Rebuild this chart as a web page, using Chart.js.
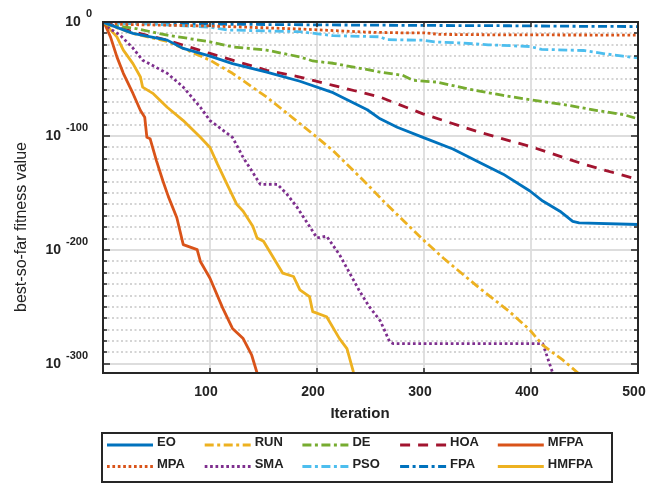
<!DOCTYPE html>
<html><head><meta charset="utf-8">
<script src="https://cdn.jsdelivr.net/npm/chart.js@4.4.0/dist/chart.umd.min.js"></script>
<style>html,body{margin:0;padding:0;background:#fff;}#wrap{width:657px;height:487px;}</style>
</head><body><div id="wrap"><canvas id="c" width="657" height="487"></canvas></div>
<script>
// ---- data: iteration and log10(best-so-far fitness) ----
const xTicks = [100, 200, 300, 400, 500];
const yTickExps = [0, -100, -200, -300];

const eoIter = [1, 28, 60, 75, 100, 121, 153, 184, 215, 247, 259, 275, 299, 327, 352, 374, 399, 411, 427, 439, 445, 500];
const eoVal  = [-0.5, -10, -15.9, -23.2, -30, -36.5, -44, -52, -62, -77, -85, -92.4, -101.2, -111.5, -123.3, -133.5, -148.3, -157.1, -166, -175, -176.3, -177.7];

const runIter = [1, 28, 60, 100, 121, 153, 184, 200, 215, 247, 262, 299, 318, 352, 380, 399, 411, 430, 444, 447];
const runVal  = [-1, -10, -17, -33.5, -45, -65.9, -89.1, -101.2, -112.9, -142.4, -157.1, -190.9, -207.1, -233.6, -254.2, -270.3, -283.6, -296.8, -308, -312];

const deIter = [1, 4, 28, 60, 100, 121, 153, 184, 196, 215, 259, 280, 290, 312, 343, 374, 399, 436, 462, 486, 500];
const deVal  = [-0.5, -2.6, -5.3, -11.5, -17.4, -21.8, -24.7, -30.6, -34.2, -36.2, -43.9, -46.8, -51.2, -52.7, -59.1, -64.4, -68.2, -73.3, -77.7, -81.2, -85];

const hoaIter = [1, 28, 60, 100, 121, 153, 184, 215, 259, 299, 352, 402, 449, 500];
const hoaVal  = [-0.5, -8.6, -15.9, -27.6, -33.5, -42.4, -48.3, -55.6, -65.9, -80.6, -96.8, -110, -124.7, -138.3];

const mfpaIter = [1, 7, 13, 19, 28, 35, 39, 41, 44, 50, 56, 61, 69, 75, 88, 91, 100, 112, 121, 131, 139, 144, 146];
const mfpaVal  = [-0.5, -13, -30.6, -45, -62.7, -77.7, -83.6, -101.2, -102.4, -121.8, -139.5, -153, -171.8, -195.3, -199.7, -210.1, -224.8, -251.3, -268.9, -277.8, -292.4, -308, -312];

const mpaIter = [1, 10, 100, 180, 250, 280, 300, 315, 370, 500];
const mpaVal  = [-0.5, -2, -3.5, -6, -9, -9.5, -9.5, -10.9, -11.3, -11.5];

const smaIter = [1, 4, 16, 28, 37, 60, 75, 91, 100, 121, 131, 147, 163, 172, 181, 200, 209, 221, 240, 249, 259, 268, 271, 411, 421, 423];
const smaVal  = [-0.5, -4.4, -11.5, -22.9, -33.5, -45, -57.1, -74.8, -86.5, -101.2, -118.9, -142.4, -142.4, -151.2, -162, -189.5, -188, -204.1, -236.5, -250, -262, -280.7, -282.2, -282.2, -310, -312];

const psoIter = [1, 50, 100, 116, 184, 215, 259, 265, 299, 310, 336, 360, 399, 410, 449, 470, 486, 500];
const psoVal  = [-0.5, -2, -4.5, -7, -8.5, -12, -13, -15.5, -16, -17.5, -18.5, -20, -21.5, -24, -25, -28, -30, -31.5];

const fpaIter = [1, 20, 60, 120, 200, 300, 380, 450, 500];
const fpaVal  = [-0.5, -1, -1.5, -2, -2.5, -3, -3.3, -3.8, -4];

const hmfpaIter = [1, 13, 19, 28, 35, 37, 47, 60, 75, 91, 100, 107, 116, 125, 131, 140, 144, 150, 168, 178, 184, 193, 196, 209, 221, 228, 234, 236];
const hmfpaVal  = [-0.5, -13, -24.7, -36.5, -48.3, -57.1, -62.9, -74.8, -86.5, -101.2, -110.1, -124.7, -142.4, -160, -166, -179.2, -189.5, -192.4, -220.4, -223.3, -235, -241, -254.2, -258.6, -277.8, -286.6, -307.1, -312];

// ---- styles ----
const FONT = '"Liberation Sans", Arial, Helvetica, sans-serif';
const TXT = '#222222';
const DASHDOT = [9, 3.5, 3, 3.5];
const DASHED = [10, 8];
const DOTTED = [2.7, 2.7];

const seriesDefs = [
  {label:'EO',    it:eoIter,    v:eoVal,    color:'#0072BD', dash:[]},
  {label:'RUN',   it:runIter,   v:runVal,   color:'#EDB120', dash:DASHDOT},
  {label:'DE',    it:deIter,    v:deVal,    color:'#77AC30', dash:DASHDOT},
  {label:'HOA',   it:hoaIter,   v:hoaVal,   color:'#A2142F', dash:DASHED},
  {label:'MFPA',  it:mfpaIter,  v:mfpaVal,  color:'#D95319', dash:[]},
  {label:'MPA',   it:mpaIter,   v:mpaVal,   color:'#D95319', dash:DOTTED},
  {label:'SMA',   it:smaIter,   v:smaVal,   color:'#7E2F8E', dash:DOTTED},
  {label:'PSO',   it:psoIter,   v:psoVal,   color:'#4DBEEE', dash:DASHDOT},
  {label:'FPA',   it:fpaIter,   v:fpaVal,   color:'#0072BD', dash:DASHDOT},
  {label:'HMFPA', it:hmfpaIter, v:hmfpaVal, color:'#EDB120', dash:[]}
];

const datasets = seriesDefs.map(s => ({
  label: s.label,
  data: s.it.map((x, i) => ({x: x, y: s.v[i]})),
  borderColor: s.color,
  borderWidth: 2.8,
  borderDash: s.dash,
  borderCapStyle: 'butt',
  borderJoinStyle: 'round',
  pointRadius: 0,
  fill: false,
  tension: 0
}));

function seg(ctx, x1, y1, x2, y2){ ctx.beginPath(); ctx.moveTo(x1, y1); ctx.lineTo(x2, y2); ctx.stroke(); }

const deco = {
  id: 'deco',
  beforeDatasetsDraw(chart){
    const {ctx, chartArea: a, scales: {x, y}} = chart;
    ctx.save();
    ctx.lineWidth = 1.5;
    ctx.strokeStyle = '#c6c6c6';
    ctx.setLineDash([2, 2.5]);
    for (let v = -10; v >= -300; v -= 10){
      if (v % 100 === 0) continue;
      const py = Math.round(y.getPixelForValue(v));
      seg(ctx, a.left, py, a.right, py);
    }
    ctx.setLineDash([]);
    ctx.strokeStyle = '#dddddd';
    ctx.lineWidth = 1.8;
    for (const v of [-100, -200, -300]){
      const py = Math.round(y.getPixelForValue(v));
      seg(ctx, a.left, py, a.right, py);
    }
    for (const v of [100, 200, 300, 400]){
      const px = Math.round(x.getPixelForValue(v));
      seg(ctx, px, a.top, px, a.bottom);
    }
    ctx.restore();
  },
  afterDatasetsDraw(chart){
    const {ctx, chartArea: a, scales: {x, y}} = chart;
    ctx.save();
    ctx.strokeStyle = '#262626';
    ctx.lineWidth = 1.5;
    for (let v = 0; v >= -300; v -= 10){
      const py = Math.round(y.getPixelForValue(v));
      const L = (v % 100 === 0) ? 7 : 4;
      seg(ctx, a.left, py, a.left + L, py);
      seg(ctx, a.right, py, a.right - L, py);
    }
    for (const v of [100, 200, 300, 400]){
      const px = Math.round(x.getPixelForValue(v));
      seg(ctx, px, a.bottom, px, a.bottom - 5);
      seg(ctx, px, a.top, px, a.top + 5);
    }
    ctx.lineWidth = 2;
    ctx.strokeRect(a.left, a.top, a.right - a.left, a.bottom - a.top);
    ctx.restore();
  },
  afterDraw(chart){
    const {ctx, chartArea: a, scales: {y}} = chart;
    ctx.save();
    ctx.fillStyle = TXT;
    // y tick labels 10^n
    for (const e of yTickExps){
      const py = y.getPixelForValue(e);
      const expTxt = String(e);
      ctx.font = 'bold 11px ' + FONT;
      ctx.textAlign = 'right';
      ctx.textBaseline = 'middle';
      const ew = ctx.measureText(expTxt).width;
      const expRight = e === 0 ? 92 : 88;
      ctx.fillText(expTxt, expRight, py - 8);
      ctx.font = 'bold 14px ' + FONT;
      ctx.fillText('10', expRight - ew - 5, py);
    }
    // x title
    ctx.font = 'bold 15px ' + FONT;
    ctx.textAlign = 'center';
    ctx.textBaseline = 'middle';
    ctx.fillText('Iteration', 360, 414);
    // y title
    ctx.save();
    ctx.translate(26, 227);
    ctx.rotate(-Math.PI / 2);
    ctx.font = '16px ' + FONT;
    ctx.textAlign = 'center';
    ctx.textBaseline = 'alphabetic';
    ctx.fillText('best-so-far fitness value', 0, 0);
    ctx.restore();
    // legend
    const bx = 102, by = 433, bw = 510, bh = 49;
    ctx.fillStyle = '#ffffff';
    ctx.fillRect(bx, by, bw, bh);
    ctx.strokeStyle = '#262626';
    ctx.lineWidth = 2;
    ctx.strokeRect(bx, by, bw, bh);
    const colW = 97.7;
    seriesDefs.forEach((s, i) => {
      const row = Math.floor(i / 5), col = i % 5;
      const lx = 107 + col * colW;
      const ly = row === 0 ? 445 : 466.5;
      ctx.strokeStyle = s.color;
      ctx.lineWidth = 2.8;
      ctx.lineCap = 'butt';
      ctx.setLineDash(s.dash);
      seg(ctx, lx, ly, lx + 46, ly);
      ctx.setLineDash([]);
      ctx.fillStyle = TXT;
      ctx.font = 'bold 13px ' + FONT;
      ctx.textAlign = 'left';
      ctx.textBaseline = 'middle';
      ctx.fillText(s.label, lx + 50, row === 0 ? 442 : 464.5);
    });
    ctx.restore();
  }
};

new Chart(document.getElementById('c'), {
  type: 'line',
  data: {datasets: datasets},
  plugins: [deco],
  options: {
    responsive: false,
    animation: false,
    devicePixelRatio: 1,
    layout: {padding: {left: 0, top: 22, right: 19, bottom: 0}},
    plugins: {legend: {display: false}, tooltip: {enabled: false}},
    scales: {
      x: {
        type: 'linear', min: 0, max: 500,
        grid: {display: false}, border: {display: false},
        afterBuildTicks: s => { s.ticks = xTicks.map(v => ({value: v})); },
        ticks: {
          font: {family: FONT, size: 14, weight: 'bold'}, color: TXT,
          padding: 3, labelOffset: -4, maxRotation: 0, autoSkip: false
        },
        afterFit: s => { s.height = 114; }
      },
      y: {
        type: 'linear', min: -308, max: 0,
        grid: {display: false}, border: {display: false},
        ticks: {display: false},
        afterFit: s => { s.width = 103; }
      }
    }
  }
});
</script>
</body></html>
